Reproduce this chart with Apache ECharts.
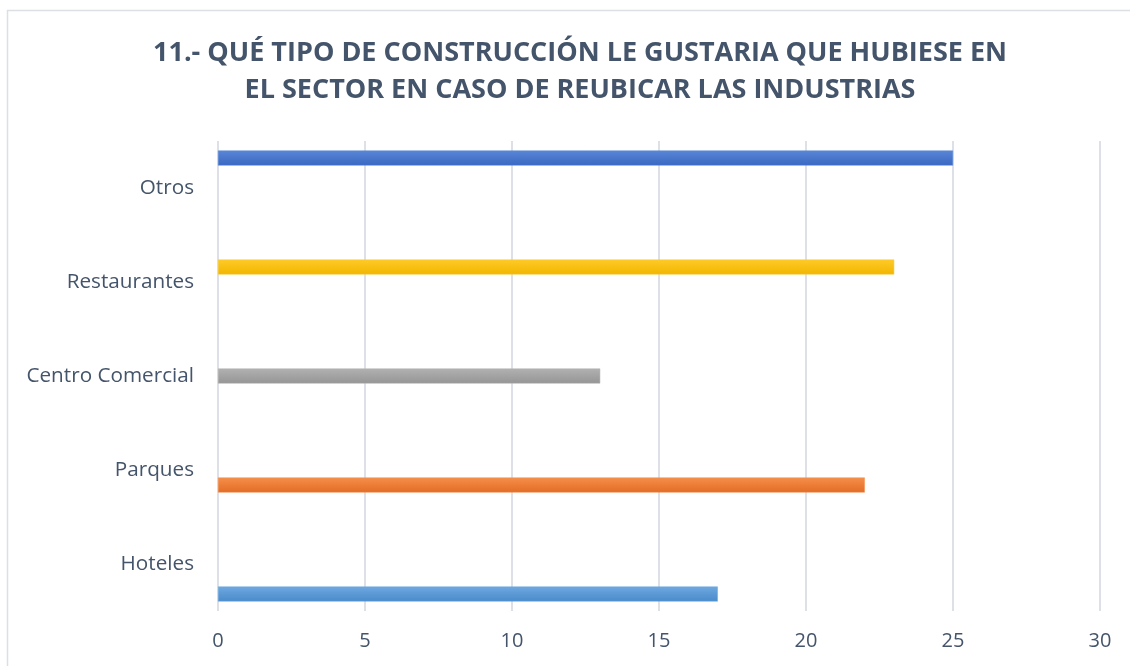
<!DOCTYPE html>
<html>
<head>
<meta charset="utf-8" />
<title>Tipo de construcción</title>
<script src="https://cdn.jsdelivr.net/npm/echarts@6/dist/echarts.min.js"></script>
<style>
  html, body { margin: 0; padding: 0; background: #fff; }
  #chart { width: 1130px; height: 666px; }
</style>
</head>
<body>
<div id="chart"></div>
<script>
// categorias, de abajo hacia arriba
var categories = ['Hoteles', 'Parques', 'Centro Comercial', 'Restaurantes', 'Otros'];
var values = [17, 22, 13, 23, 25];
var xTicks = [0, 5, 10, 15, 20, 25, 30];

// colores de cada serie (arriba claro, abajo oscuro)
var topColors = ['#6ea8df', '#f58f4b', '#b1b1b1', '#ffca28', '#5a86d6'];
var bottomColors = ['#4a8bcb', '#e36c24', '#959595', '#f2b600', '#3a67c2'];

var myChart = echarts.init(document.getElementById('chart'));

// una serie por categoria, como en Excel; la primera serie va arriba en ECharts,
// asi que se agregan en orden inverso
var series = [];
for (var i = categories.length - 1; i >= 0; i--) {
  var d = categories.map(function (c, j) { return j === i ? values[i] : null; });
  series.push({
    name: categories[i],
    type: 'bar',
    data: d,
    barWidth: 15,
    barGap: '0%',
    itemStyle: {
      color: new echarts.graphic.LinearGradient(0, 0, 0, 1, [
        { offset: 0, color: topColors[i] },
        { offset: 1, color: bottomColors[i] }
      ]),
      borderColor: topColors[i],
      borderWidth: 0.5
    }
  });
}

var option = {
  animation: false,
  graphic: [{
    type: 'rect',
    shape: { x: 7.5, y: 10.5, width: 1200, height: 700 },
    style: { fill: 'none', stroke: '#dcdfe4', lineWidth: 1.5 },
    silent: true
  }],
  title: {
    text: '11.- QUÉ TIPO DE CONSTRUCCIÓN LE GUSTARIA QUE HUBIESE EN\nEL SECTOR EN CASO DE REUBICAR LAS INDUSTRIAS',
    left: 575,
    top: 30,
    textAlign: 'center',
    textStyle: {
      fontFamily: 'Open Sans',
      fontWeight: 'bold',
      fontSize: 27,
      lineHeight: 37,
      color: '#44546a'
    }
  },
  grid: { left: 218, right: 30, top: 141, bottom: 55 },
  xAxis: {
    type: 'value',
    min: xTicks[0],
    max: xTicks[xTicks.length - 1],
    interval: 5,
    axisLine: { show: false },
    axisTick: { show: false },
    splitLine: { lineStyle: { color: '#dde1e7', width: 2 } },
    axisLabel: {
      margin: 20,
      fontFamily: 'Open Sans',
      fontSize: 20,
      color: '#44546a'
    }
  },
  yAxis: {
    type: 'category',
    data: categories,
    axisLine: { show: false },
    axisTick: { show: false },
    axisLabel: {
      margin: 24,
      fontFamily: 'Open Sans',
      fontSize: 20.7,
      color: '#44546a'
    }
  },
  series: series
};

myChart.setOption(option);
</script>
</body>
</html>
